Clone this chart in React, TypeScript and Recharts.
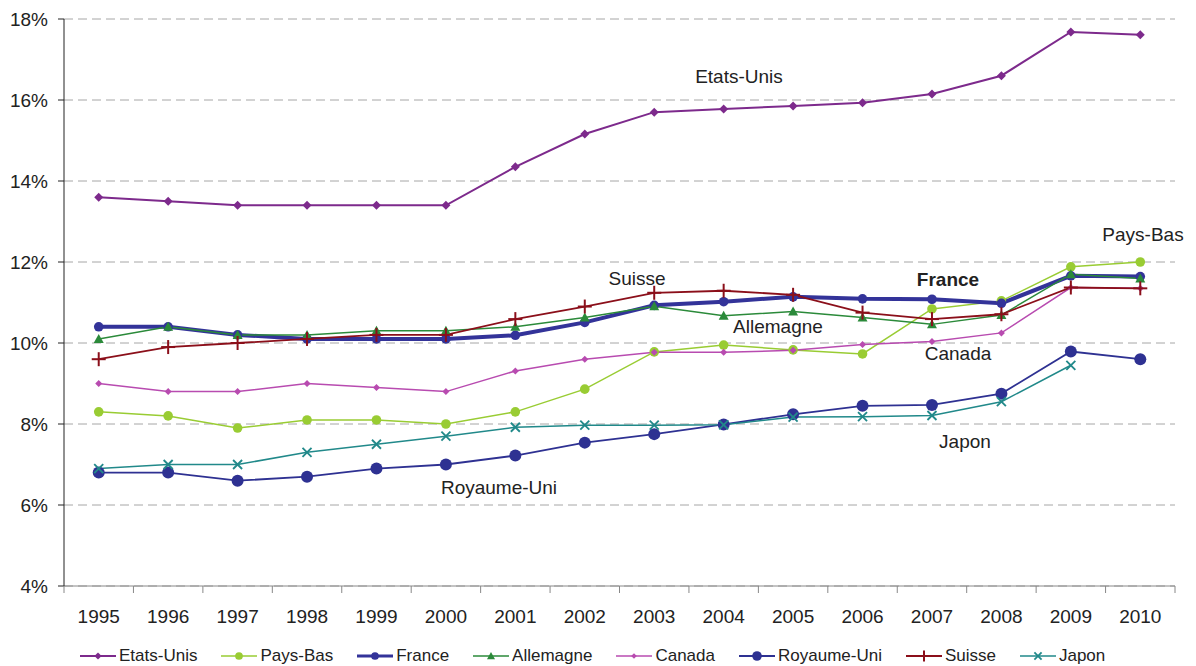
import React from 'react'
import {
  CartesianGrid,
  Customized,
  Legend,
  Line,
  LineChart,
  XAxis,
  YAxis,
} from 'recharts'

const years = ['1995', '1996', '1997', '1998', '1999', '2000', '2001', '2002', '2003', '2004', '2005', '2006', '2007', '2008', '2009', '2010']

const etatsUnis = [13.6, 13.5, 13.4, 13.4, 13.4, 13.4, 14.35, 15.16, 15.7, 15.78, 15.85, 15.93, 16.15, 16.6, 17.68, 17.61]
const paysBas = [8.3, 8.2, 7.9, 8.1, 8.1, 8.0, 8.3, 8.86, 9.78, 9.95, 9.83, 9.73, 10.84, 11.04, 11.88, 12.0]
const france = [10.4, 10.4, 10.2, 10.1, 10.1, 10.1, 10.19, 10.51, 10.93, 11.02, 11.14, 11.09, 11.08, 10.98, 11.66, 11.64]
const allemagne = [10.1, 10.4, 10.2, 10.2, 10.3, 10.3, 10.4, 10.63, 10.91, 10.67, 10.78, 10.63, 10.46, 10.69, 11.7, 11.59]
const canada = [9.0, 8.8, 8.8, 9.0, 8.9, 8.8, 9.31, 9.6, 9.77, 9.77, 9.82, 9.96, 10.04, 10.25, 11.37, 11.35]
const royaumeUni = [6.8, 6.8, 6.6, 6.7, 6.9, 7.0, 7.22, 7.54, 7.75, 7.99, 8.24, 8.45, 8.47, 8.75, 9.79, 9.6]
const suisse = [9.6, 9.9, 10.0, 10.1, 10.2, 10.2, 10.59, 10.9, 11.24, 11.29, 11.19, 10.75, 10.59, 10.71, 11.37, 11.35]
const japon: (number | null)[] = [6.9, 7.0, 7.0, 7.3, 7.5, 7.7, 7.92, 7.97, 7.97, 7.98, 8.17, 8.18, 8.21, 8.55, 9.45, null]

const yTicks = [4, 6, 8, 10, 12, 14, 16, 18]

const data = years.map((year, i) => ({
  year,
  etatsUnis: etatsUnis[i],
  paysBas: paysBas[i],
  france: france[i],
  allemagne: allemagne[i],
  canada: canada[i],
  royaumeUni: royaumeUni[i],
  suisse: suisse[i],
  japon: japon[i],
}))

type Shape = 'diamond' | 'smallDiamond' | 'circle' | 'bigCircle' | 'triangle' | 'plus' | 'cross'

const series: { key: string; name: string; color: string; width: number; shape: Shape }[] = [
  { key: 'etatsUnis', name: 'Etats-Unis', color: '#7d2a8c', width: 2, shape: 'diamond' },
  { key: 'paysBas', name: 'Pays-Bas', color: '#99cc33', width: 1.5, shape: 'circle' },
  { key: 'france', name: 'France', color: '#333399', width: 4, shape: 'circle' },
  { key: 'allemagne', name: 'Allemagne', color: '#2b8a3a', width: 1.5, shape: 'triangle' },
  { key: 'canada', name: 'Canada', color: '#b84bb0', width: 1.5, shape: 'smallDiamond' },
  { key: 'royaumeUni', name: 'Royaume-Uni', color: '#2e3192', width: 1.8, shape: 'bigCircle' },
  { key: 'suisse', name: 'Suisse', color: '#8b0f1a', width: 1.8, shape: 'plus' },
  { key: 'japon', name: 'Japon', color: '#21898a', width: 1.5, shape: 'cross' },
]

const labels = [
  { text: 'Etats-Unis', x: 739, y: 76 },
  { text: 'Pays-Bas', x: 1143, y: 234 },
  { text: 'Suisse', x: 637, y: 278 },
  { text: 'France', x: 948, y: 279, bold: true },
  { text: 'Allemagne', x: 778, y: 326 },
  { text: 'Canada', x: 958, y: 353 },
  { text: 'Japon', x: 965, y: 441 },
  { text: 'Royaume-Uni', x: 499, y: 487 },
]

const W = 1196
const H = 666
const LEFT = 64
const RIGHT = 21
const HALF_BAND = (W - LEFT - RIGHT) / years.length / 2
const FONT = 'Arial, "Liberation Sans", sans-serif'

function Marker({ shape, color, cx, cy, s = 1 }: { shape: Shape; color: string; cx: number; cy: number; s?: number }) {
  switch (shape) {
    case 'diamond': {
      const r = 4.5 * s
      return <polygon points={`${cx},${cy - r} ${cx + r},${cy} ${cx},${cy + r} ${cx - r},${cy}`} fill={color} />
    }
    case 'smallDiamond': {
      const r = 3.5 * s
      return <polygon points={`${cx},${cy - r} ${cx + r},${cy} ${cx},${cy + r} ${cx - r},${cy}`} fill={color} />
    }
    case 'circle':
      return <circle cx={cx} cy={cy} r={4.8 * s} fill={color} />
    case 'bigCircle':
      return <circle cx={cx} cy={cy} r={6 * s} fill={color} />
    case 'triangle': {
      const r = 5 * s
      return <polygon points={`${cx},${cy - r} ${cx + r},${cy + r * 0.8} ${cx - r},${cy + r * 0.8}`} fill={color} />
    }
    case 'plus': {
      const r = 7 * s
      return (
        <g stroke={color} strokeWidth={2}>
          <line x1={cx - r} y1={cy} x2={cx + r} y2={cy} />
          <line x1={cx} y1={cy - r} x2={cx} y2={cy + r} />
        </g>
      )
    }
    case 'cross': {
      const r = 4.5 * s
      return (
        <g stroke={color} strokeWidth={1.8}>
          <line x1={cx - r} y1={cy - r} x2={cx + r} y2={cy + r} />
          <line x1={cx - r} y1={cy + r} x2={cx + r} y2={cy - r} />
        </g>
      )
    }
  }
  return null
}

const makeDot = (shape: Shape, color: string) => (props: any) => {
  const { cx, cy, index, value } = props
  if (cx == null || cy == null || value == null) return <g key={`d${index}`} />
  return (
    <g key={`d${index}`}>
      <Marker shape={shape} color={color} cx={cx} cy={cy} />
    </g>
  )
}

function XTick(props: any) {
  const { x, y, payload, index } = props
  const axisY = y - 17
  return (
    <g>
      <line x1={x - HALF_BAND} y1={axisY} x2={x - HALF_BAND} y2={axisY + 7} stroke="#888" />
      {index === years.length - 1 && (
        <line x1={x + HALF_BAND} y1={axisY} x2={x + HALF_BAND} y2={axisY + 7} stroke="#888" />
      )}
      <text x={x} y={y} dy={20} textAnchor="middle" fontSize={19} fill="#222" fontFamily={FONT}>
        {payload.value}
      </text>
    </g>
  )
}

function LegendContent() {
  return (
    <div style={{ height: 30, display: 'flex', alignItems: 'flex-end', paddingLeft: 80, fontFamily: FONT }}>
      {series.map((s) => (
        <div key={s.key} style={{ display: 'flex', alignItems: 'center', marginRight: 24, height: 20 }}>
          <svg width={36} height={16} style={{ marginRight: 3 }}>
            <line x1={0} y1={8} x2={36} y2={8} stroke={s.color} strokeWidth={Math.min(s.width, 3)} />
            <Marker shape={s.shape} color={s.color} cx={18} cy={8} s={0.8} />
          </svg>
          <span style={{ fontSize: 17, color: '#222', lineHeight: '20px' }}>{s.name}</span>
        </div>
      ))}
    </div>
  )
}

function Annotations() {
  return (
    <g>
      {labels.map((l) => (
        <text
          key={l.text}
          x={l.x}
          y={l.y}
          dy={7}
          textAnchor="middle"
          fontSize={19}
          fontWeight={l.bold ? 'bold' : 'normal'}
          fill="#222"
          fontFamily={FONT}
        >
          {l.text}
        </text>
      ))}
    </g>
  )
}

export default function App() {
  return (
    <div style={{ position: 'absolute', left: 0, top: 0, width: W, height: H, background: '#fff', fontFamily: FONT }}>
      <LineChart width={W} height={H} data={data} margin={{ top: 19, right: RIGHT, left: 0, bottom: 0 }}>
        <CartesianGrid vertical={false} stroke="#a6a6a6" strokeDasharray="9 5" />
        <XAxis
          dataKey="year"
          height={50}
          padding={{ left: HALF_BAND, right: HALF_BAND }}
          axisLine={{ stroke: '#888' }}
          tickLine={false}
          tickSize={7}
          tickMargin={10}
          tick={<XTick />}
          interval={0}
        />
        <YAxis
          width={LEFT}
          domain={[4, 18]}
          ticks={yTicks}
          tickFormatter={(v) => `${v}%`}
          axisLine={{ stroke: '#222' }}
          tickLine={{ stroke: '#222' }}
          tickSize={6}
          tickMargin={10}
          tick={{ fontSize: 19, fill: '#222', fontFamily: FONT }}
          interval={0}
        />
        <Legend verticalAlign="bottom" content={<LegendContent />} />
        {series.map((s) => (
          <Line
            key={s.key}
            dataKey={s.key}
            name={s.name}
            stroke={s.color}
            strokeWidth={s.width}
            dot={makeDot(s.shape, s.color)}
            activeDot={false}
            isAnimationActive={false}
            connectNulls={false}
          />
        ))}
        <Customized component={Annotations} />
      </LineChart>
    </div>
  )
}
